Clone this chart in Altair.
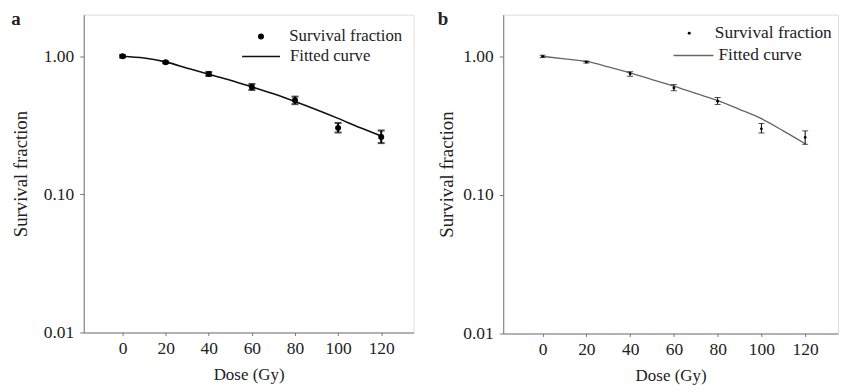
import altair as alt
import pandas as pd

# ---- data ----
dose = [0, 20, 40, 60, 80, 100, 120]

a_sf = [1.00, 0.905, 0.745, 0.60, 0.48, 0.303, 0.26]
a_lo = [0.98, 0.89, 0.72, 0.57, 0.45, 0.281, 0.235]
a_hi = [1.02, 0.92, 0.77, 0.63, 0.51, 0.328, 0.29]

b_sf = [1.00, 0.91, 0.75, 0.59, 0.475, 0.30, 0.26]
b_lo = [0.98, 0.895, 0.72, 0.565, 0.45, 0.28, 0.232]
b_hi = [1.02, 0.925, 0.775, 0.625, 0.505, 0.328, 0.29]

fit_dose = [0, 10, 20, 30, 40, 50, 60, 70, 80, 90, 100, 110, 120]
a_fit = [1.00, 0.97, 0.91, 0.82, 0.74, 0.67, 0.60, 0.535, 0.47, 0.41, 0.355, 0.305, 0.265]
b_fit = [1.00, 0.96, 0.92, 0.84, 0.76, 0.68, 0.61, 0.54, 0.48, 0.415, 0.355, 0.29, 0.234]

x_ticks = [0, 20, 40, 60, 80, 100, 120]
y_ticks = [0.01, 0.1, 1.0]

POINT_LABEL = "Survival fraction"
LINE_LABEL = "Fitted curve"
FONT = "Liberation Serif"
TXT = "#222222"
FRAME = "#777777"


def panel(letter, sf, lo, hi, fit, width, height, psize, capw, ebw, line_color,
          line_w, pt_leg, ln_leg, leg_font, ytitle_pad):
    pts = pd.DataFrame({"dose": dose, "sf": sf, "lo": lo, "hi": hi,
                        "series": [POINT_LABEL] * len(dose)})
    crv = pd.DataFrame({"dose": fit_dose, "fit": fit,
                        "series": [LINE_LABEL] * len(fit_dose)})

    xscale = alt.Scale(domain=[-18, 135], nice=False, zero=False)
    yscale = alt.Scale(type="log", domain=[0.01, 2], nice=False)
    xaxis = alt.Axis(values=x_ticks, title="Dose (Gy)", grid=False, tickSize=3,
                     labelPadding=4, titlePadding=10, labelFontSize=17.5,
                     titleFontSize=17, titleFontWeight="normal", labelFont=FONT,
                     titleFont=FONT, labelColor=TXT, titleColor=TXT,
                     domainColor=FRAME, tickColor=FRAME)
    yaxis = alt.Axis(values=y_ticks, format=".2f", title="Survival fraction",
                     grid=False, tickSize=4, labelPadding=6, titlePadding=ytitle_pad,
                     labelFontSize=17.5, titleFontSize=18.8, titleFontWeight="normal",
                     labelFont=FONT, titleFont=FONT, labelColor=TXT,
                     titleColor=TXT, domainColor=FRAME, tickColor=FRAME)

    line = alt.Chart(crv).mark_line(strokeWidth=line_w, interpolate="monotone").encode(
        x=alt.X("dose:Q", scale=xscale, axis=xaxis),
        y=alt.Y("fit:Q", scale=yscale, axis=yaxis),
        color=alt.Color("series:N",
                        scale=alt.Scale(domain=[LINE_LABEL], range=[line_color]),
                        legend=alt.Legend(orient="none", legendX=ln_leg[0],
                                          legendY=ln_leg[1], title=None,
                                          labelFont=FONT, labelFontSize=leg_font,
                                          labelColor=TXT, symbolType="stroke",
                                          symbolSize=ln_leg[2], labelOffset=ln_leg[3],
                                          symbolStrokeWidth=line_w, padding=0)),
    )
    bars = alt.Chart(pts).mark_rule(color="black", strokeWidth=ebw).encode(
        x="dose:Q", y="lo:Q", y2="hi:Q")
    cap_lo = alt.Chart(pts).mark_tick(color="black", orient="horizontal",
                                      size=capw, thickness=ebw).encode(
        x="dose:Q", y="lo:Q")
    cap_hi = alt.Chart(pts).mark_tick(color="black", orient="horizontal",
                                      size=capw, thickness=ebw).encode(
        x="dose:Q", y="hi:Q")
    dots = alt.Chart(pts).mark_point(filled=True, size=psize, opacity=1,
                                     color="black").encode(
        x="dose:Q", y="sf:Q",
        shape=alt.Shape("series:N",
                        scale=alt.Scale(domain=[POINT_LABEL], range=["circle"]),
                        legend=alt.Legend(orient="none", legendX=pt_leg[0],
                                          legendY=pt_leg[1], title=None,
                                          labelFont=FONT, labelFontSize=leg_font,
                                          labelColor=TXT, symbolSize=pt_leg[2],
                                          labelOffset=pt_leg[3],
                                          symbolFillColor="black",
                                          symbolStrokeColor="black",
                                          symbolStrokeWidth=0, padding=0)),
    )
    return alt.layer(line, bars, cap_lo, cap_hi, dots).properties(
        width=width, height=height,
        title=alt.TitleParams(letter, anchor="start", frame="bounds",
                              fontWeight="bold", fontSize=19, font=FONT,
                              color=TXT, baseline="alphabetic", offset=-29),
    )


pa = panel("a", a_sf, a_lo, a_hi, a_fit, 331, 319, 36, 7, 2, "#111111", 1.6,
           (169.5, 13.5, 36, 20), (158, 22, 1444, 9), 16.8, 13)
pb = panel("b", b_sf, b_lo, b_hi, b_fit, 336, 320, 8, 6, 1, "#666666", 1.3,
           (178, 10, 9, 17), (170, 20, 1600, 4), 17.4, 6)

chart = alt.hconcat(pa, pb, spacing=22).resolve_scale(
    shape="independent", color="independent"
).resolve_legend(shape="independent", color="independent").properties(
    padding={"left": 2, "top": 0, "right": 0, "bottom": 0}
).configure_view(stroke=FRAME, strokeWidth=1).configure(font=FONT)

chart.save("out.html", embed_options={"renderer": "svg", "actions": False})
